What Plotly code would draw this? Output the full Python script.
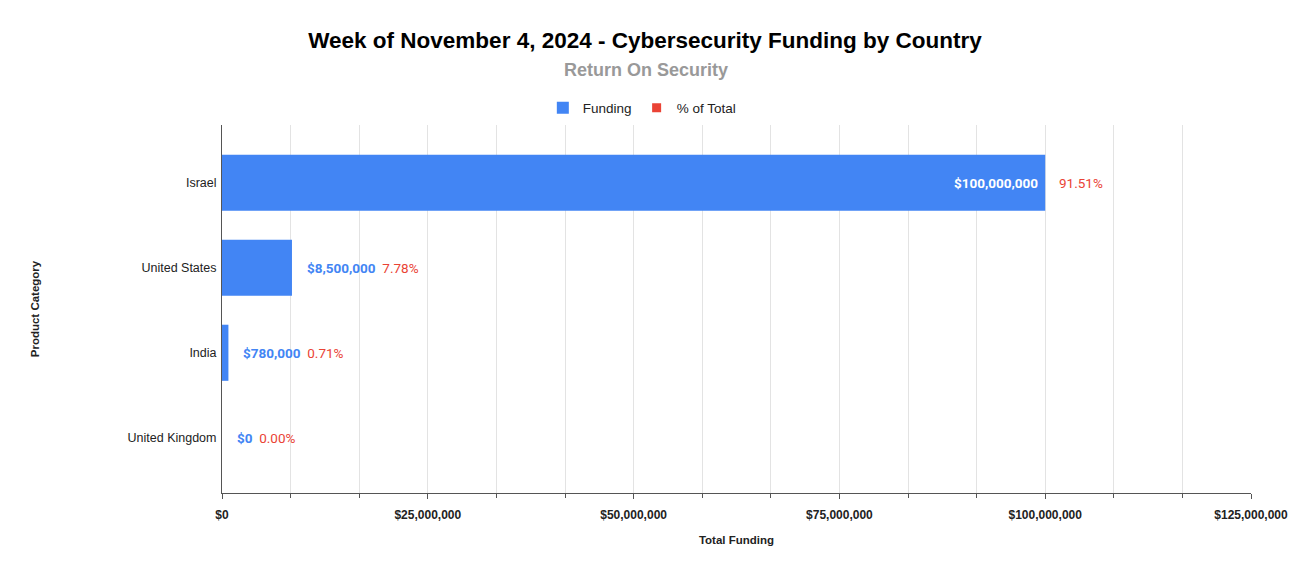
import plotly.graph_objects as go

countries = ["Israel", "United States", "India", "United Kingdom"]
funding = [100000000, 8500000, 780000, 0]
pct_total = [91.51, 7.78, 0.71, 0.00]
x_ticks = [0, 25000000, 50000000, 75000000, 100000000, 125000000]
x_ticklabels = ["$0", "$25,000,000", "$50,000,000", "$75,000,000", "$100,000,000", "$125,000,000"]

blue = "#4285F4"
red = "#EA4335"

W, H = 1292, 575
# plot area in pixels: x 222..1251, y 125..493
PLOT_TOP, PLOT_BOTTOM = 125, 493
PLOT_H = PLOT_BOTTOM - PLOT_TOP

fig = go.Figure()

fig.add_trace(go.Bar(
    x=funding,
    y=countries,
    orientation="h",
    name="Funding",
    marker=dict(color=blue, line=dict(width=0)),
    width=0.66,
    hoverinfo="x+y",
))

# dummy trace only for the legend entry
fig.add_trace(go.Scatter(
    x=[None], y=[None],
    mode="markers",
    name="% of Total",
    marker=dict(color=red, symbol="square", size=9),
))

# data labels
for c, v, p in zip(countries, funding, pct_total):
    money = "${:,.0f}".format(v)
    pct = "{:.2f}%".format(p)
    if v > 0.5 * x_ticks[-1]:
        fig.add_annotation(x=v, y=c, xref="x", yref="y", text="<b>" + money + "</b>",
                           showarrow=False, xanchor="right", xshift=-5,
                           font=dict(family="Roboto", size=13.5, color="white"))
        fig.add_annotation(x=v, y=c, xref="x", yref="y", text=pct,
                           showarrow=False, xanchor="left", xshift=12,
                           font=dict(family="Roboto", size=13.5, color=red))
    else:
        fig.add_annotation(x=v, y=c, xref="x", yref="y",
                           text="<b>" + money + "</b>\u00a0 <span style='color:" + red + "'>" + pct + "</span>",
                           showarrow=False, xanchor="left", xshift=13,
                           font=dict(family="Roboto", size=13.5, color=blue))

fig.add_annotation(
    x=0.412, y=(PLOT_BOTTOM - 70) / PLOT_H, xref="paper", yref="paper",
    xanchor="center", yanchor="middle",
    text="<b>Return On Security</b>", showarrow=False,
    font=dict(family="Liberation Sans, Arial", size=18, color="#999999"),
)

fig.update_layout(
    width=W, height=H,
    margin=dict(l=222, r=41, t=PLOT_TOP, b=H - PLOT_BOTTOM, autoexpand=False),
    paper_bgcolor="white",
    plot_bgcolor="white",
    font=dict(family="Liberation Sans, Arial", size=12, color="#222222"),
    title=dict(
        text="<b>Week of November 4, 2024 - Cybersecurity Funding by Country</b>",
        x=645 / W, xref="container", xanchor="center",
        y=1 - 40 / H, yref="container", yanchor="middle",
        font=dict(family="Liberation Sans, Arial", size=22.5, color="#000000"),
    ),
    legend=dict(
        orientation="h",
        x=0.408, xref="paper", xanchor="center",
        y=(PLOT_BOTTOM - 108) / PLOT_H, yref="paper", yanchor="middle",
        font=dict(size=13.5, color="#222222"),
        itemwidth=30,
    ),
    showlegend=True,
)

fig.update_xaxes(
    range=[0, 125000000],
    tickvals=x_ticks,
    ticktext=["<b>" + t + "</b>" for t in x_ticklabels],
    tickfont=dict(size=12, color="#222222"),
    showgrid=True, gridcolor="#e3e3e3", gridwidth=1,
    minor=dict(dtick=25000000 / 3, tick0=0, showgrid=True, gridcolor="#e3e3e3",
               ticks="outside", ticklen=4, tickcolor="#555555"),
    ticks="outside", ticklen=5, tickcolor="#555555",
    showline=True, linecolor="#555555", linewidth=1,
    zeroline=False,
    automargin=False,
    ticklabelstandoff=6,
    title=dict(text="<b>Total Funding</b>", font=dict(size=11.5, color="#222222"), standoff=14),
)

fig.update_yaxes(
    type="category",
    categoryorder="array", categoryarray=countries,
    range=[3.65, -0.68],
    showgrid=False,
    showline=True, linecolor="#555555", linewidth=1,
    ticks="", ticklabelstandoff=2,
    automargin=False,
    tickfont=dict(size=12.5, color="#222222"),
    title=dict(text="<b>Product Category</b>", font=dict(size=11.5, color="#222222"), standoff=85),
)

# drop the default 8px page margin so the figure fills the window
fig.write_html("out.html", config={"displayModeBar": False},
               post_script="document.body.style.margin='0';document.body.style.overflow='hidden';")
